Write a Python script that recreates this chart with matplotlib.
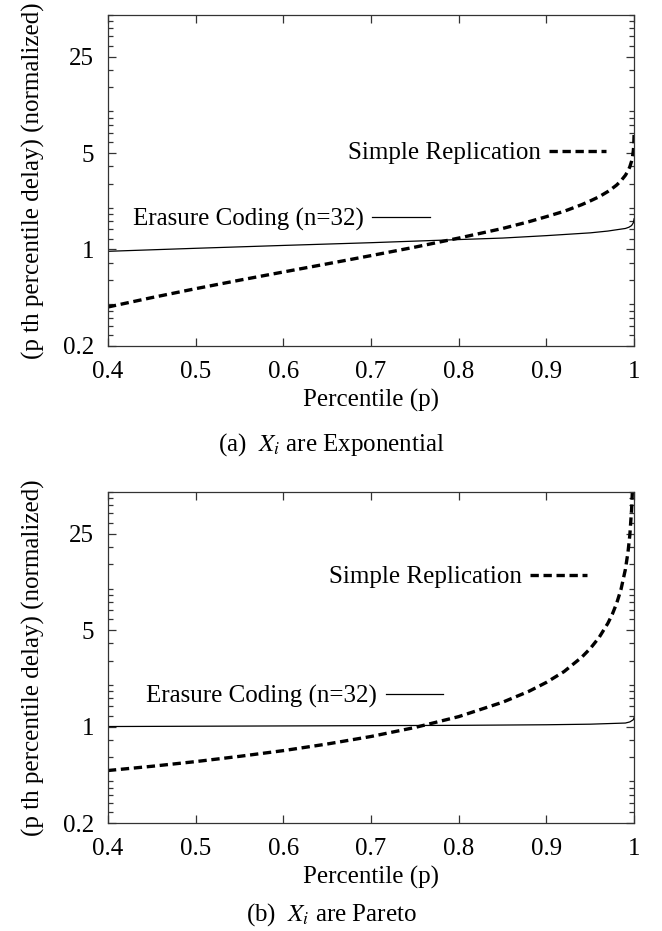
import matplotlib
matplotlib.use("Agg")
import matplotlib.pyplot as plt
from matplotlib.ticker import NullFormatter

# percentile grid and normalized delay values

# (a) exponential
p_sr_exp = [0.4, 0.45, 0.5, 0.55, 0.6, 0.65, 0.7, 0.75, 0.8, 0.85, 0.88, 0.9,
            0.92, 0.94, 0.95, 0.96, 0.97, 0.975, 0.98, 0.985, 0.99, 0.993,
            0.995, 0.997, 0.998, 0.999, 0.9995, 0.9999]
sr_exp = [0.383, 0.448, 0.52, 0.599, 0.687, 0.787, 0.903, 1.04, 1.21, 1.42,
          1.59, 1.73, 1.89, 2.11, 2.25, 2.41, 2.63, 2.77, 2.93, 3.15, 3.45,
          3.72, 3.97, 4.36, 4.66, 5.18, 5.7, 6.9]
p_ec_exp = [0.4, 0.5, 0.6, 0.7, 0.8, 0.85, 0.9, 0.95, 0.97, 0.98, 0.99,
            0.994, 0.997, 0.999, 0.9999]
ec_exp = [0.97, 1.02, 1.07, 1.12, 1.18, 1.21, 1.26, 1.32, 1.36, 1.39, 1.42,
          1.45, 1.49, 1.56, 1.67]

# (b) pareto
p_sr_par = [0.4, 0.45, 0.5, 0.55, 0.6, 0.65, 0.7, 0.75, 0.8, 0.85, 0.88, 0.9,
            0.92, 0.94, 0.95, 0.96, 0.97, 0.975, 0.98, 0.985, 0.99, 0.993,
            0.995, 0.997, 0.998]
sr_par = [0.48, 0.515, 0.557, 0.608, 0.669, 0.747, 0.847, 0.984, 1.18, 1.50,
          1.80, 2.09, 2.50, 3.17, 3.68, 4.42, 5.60, 6.50, 7.81, 9.88, 13.8,
          18.5, 24.3, 37.0, 51.6]
p_ec_par = [0.4, 0.6, 0.8, 0.9, 0.95, 0.99, 0.995, 0.999, 0.9999]
ec_par = [1.0, 1.01, 1.02, 1.03, 1.04, 1.06, 1.08, 1.12, 1.16]

x_ticks = [0.4, 0.5, 0.6, 0.7, 0.8, 0.9, 1.0]
x_ticklabels = ["0.4", "0.5", "0.6", "0.7", "0.8", "0.9", "1"]
y_ticks = [0.2, 1, 5, 25]
y_ticklabels = ["0.2", "1", "5", "25"]
minor_steps = [1.2, 1.4, 1.6, 1.8, 2, 3, 4]

sr_label = "Simple Replication"
ec_label = "Erasure Coding (n=32)"
captions = ["(a)  $X_i$ are Exponential", "(b)  $X_i$ are Pareto"]

plt.rcParams["font.family"] = ["Liberation Serif", "DejaVu Serif"]
plt.rcParams["mathtext.fontset"] = "stix"
plt.rcParams["font.size"] = 18

fs = 18

fig = plt.figure(figsize=(6.62, 9.31), dpi=100)

panels = [
    (0.6284, p_sr_exp, sr_exp, p_ec_exp, ec_exp,
     (0.947, 0.583), (0.612, 0.381), 0.523),
    (0.116, p_sr_par, sr_par, p_ec_par, ec_par,
     (0.911, 0.743), (0.637, 0.381), 0.0172),
]

edge = "#333333"

for i, (bottom, psr, sr, pec, ec, sr_pos, ec_pos, cap_y) in enumerate(panels):
    ax = fig.add_axes([0.163, bottom, 0.795, 0.3555])

    sr_line, = ax.plot(psr, sr, color="black", lw=2.4, ls=(0, (2.5, 1.4)))
    ec_line, = ax.plot(pec, ec, color="black", lw=0.9)

    ax.set_yscale("log")
    ax.set_xlim(0.4, 1.0)
    ax.set_ylim(0.2, 50)

    ax.set_xticks(x_ticks)
    ax.set_xticklabels(x_ticklabels)
    ax.set_yticks(y_ticks)
    ax.set_yticklabels(y_ticklabels)
    minors = [m * s for m in y_ticks for s in minor_steps if m * s <= 50]
    ax.set_yticks(minors, minor=True)
    ax.yaxis.set_minor_formatter(NullFormatter())
    ax.set_xticks([], minor=True)

    ax.tick_params(which="both", direction="in", top=True, right=True,
                   color=edge, width=0.9)
    ax.tick_params(which="major", length=6, labelsize=fs)
    ax.tick_params(axis="x", pad=11)
    ax.tick_params(axis="y", pad=10)
    ax.tick_params(which="minor", length=3.5)
    for s in ax.spines.values():
        s.set_color(edge)
        s.set_linewidth(0.9)

    ax.set_xlabel("Percentile (p)", fontsize=fs, labelpad=4)
    ax.set_ylabel("(p th percentile delay) (normalized)", fontsize=fs,
                  labelpad=13)

    # gnuplot style keys: text on the left, sample on the right
    leg1 = ax.legend([sr_line], [sr_label], loc="center right",
                     bbox_to_anchor=sr_pos, markerfirst=False, frameon=False,
                     handlelength=2.3, handletextpad=0.3, borderpad=0,
                     borderaxespad=0, fontsize=fs)
    ax.add_artist(leg1)
    ax.legend([ec_line], [ec_label], loc="center right",
              bbox_to_anchor=ec_pos, markerfirst=False, frameon=False,
              handlelength=2.3, handletextpad=0.35, borderpad=0,
              borderaxespad=0, fontsize=fs)

    fig.text(0.5, cap_y, captions[i], ha="center", va="center", fontsize=fs)

fig.savefig("out.png", dpi=100)
